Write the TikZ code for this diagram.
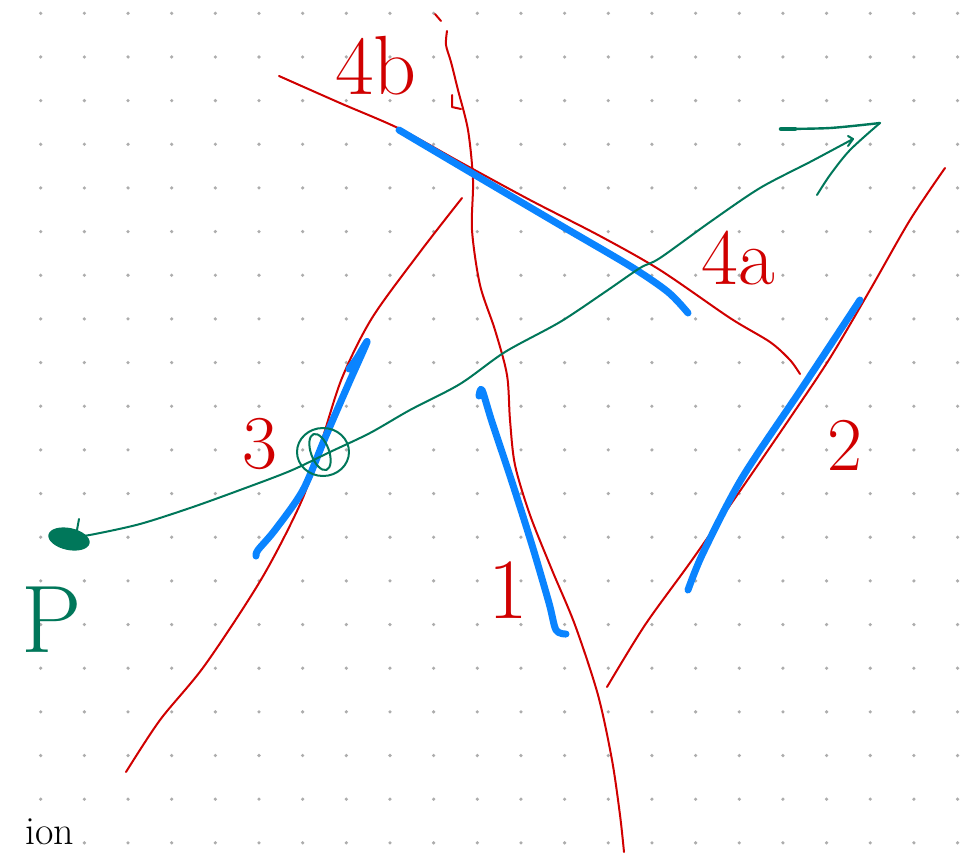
\documentclass[tikz,border=0pt]{standalone}
\usepackage{tikz}
\usetikzlibrary{calc}
\definecolor{inkred}{HTML}{D00000}
\definecolor{inkblue}{HTML}{0A84FF}
\definecolor{inkgreen}{HTML}{00775A}
\definecolor{dotgrey}{HTML}{ADADAD}
\tikzset{
  redink/.style   = {draw=inkred, line width=2pt, line cap=round, line join=round},
  blueink/.style  = {draw=inkblue, line width=7pt, line cap=round, line join=round},
  greenink/.style = {draw=inkgreen, line width=2pt, line cap=round, line join=round},
  redlbl/.style   = {text=inkred, inner sep=0pt},
  greenlbl/.style = {text=inkgreen, inner sep=0pt},
  griddot/.style  = {fill=dotgrey, draw=none},
}
\newcommand{\inksize}[1]{\fontsize{#1}{#1}\selectfont}

\begin{document}
\begin{tikzpicture}[x=1pt, y=-1pt]
    \useasboundingbox[fill=white] (0,0) rectangle (961,855);
    % dot grid
    \foreach \i in {0,...,21}{
      \foreach \j in {0,...,19}{
        \fill[griddot] ({40.7+43.66*\i},{13.3+43.66*\j}) circle (1.8);
      }
    }
    % red construction lines
    \draw[redink] plot[smooth, tension=0.5] coordinates {(279,76) (340,103) (400,129) (460,162) (530,200) (600,236) (660,270) (730,318) (770,342) (790,360) (800,374)};
    \draw[redink] plot[smooth, tension=0.5] coordinates {(447,31) (446,45) (451,62) (458,90) (468,130) (473,180) (472,230) (480,285) (495,330) (507,375) (510,420) (515,465) (530,515) (552,570) (575,625) (598,695) (612,760) (620,815) (624,852)};
    \draw[redink] (435,14) -- (441,21);
    \draw[redink] (452,95) -- (452,107) -- (461,109);
    \draw[redink] plot[smooth, tension=0.5] coordinates {(462,198) (420,252) (372,318) (342,378) (322,440) (302,500) (262,578) (205,665) (160,720) (126,772)};
    \draw[redink] plot[smooth, tension=0.5] coordinates {(945,168) (910,220) (870,290) (830,358) (790,418) (742,488) (692,560) (645,625) (607,687)};
    % blue strokes
    \draw[blueink] plot[smooth, tension=0.5] coordinates {(399,130) (470,172) (560,225) (630,266) (668,292) (688,313)};
    \draw[blueink] plot[smooth, tension=0.5] coordinates {(349,369) (357,358) (367,342) (348,385) (325,438) (303,490) (275,530) (258,550) (256,556)};
    \draw[blueink] plot[smooth, tension=0.5] coordinates {(479,396) (482,390) (492,422) (512,482) (532,545) (549,603) (556,630) (566,634)};
    \draw[blueink] plot[smooth, tension=0.5] coordinates {(860,300) (802,388) (742,478) (703,553) (688,590)};
    % green ray with arrow
    \draw[greenink] plot[smooth, tension=0.5] coordinates {(70,538) (95,534) (140,524) (190,508) (240,490) (290,471) (330,452) (370,433) (410,410) (460,384) (505,352) (560,322) (605,292) (640,268) (660,258) (710,222) (760,188) (810,162) (853,139)};
    \draw[greenink] (848,136) -- (853,139) -- (848,146);
    \draw[greenink, line width=2.4pt] plot[smooth, tension=0.5] coordinates {(780,129) (830,128) (880,123)};
    \draw[inkgreen, line width=4.5pt, line cap=round] (781,129) -- (795,129);
    \draw[greenink] plot[smooth, tension=0.5] coordinates {(880,123) (850,150) (830,175) (817,195)};
    % circled intersection
    \draw[greenink] (323,452) ellipse[x radius=26, y radius=24];
    \draw[greenink, rotate around={20:(320,452)}] (320,452) ellipse[x radius=9, y radius=19];
    % point P
    \fill[inkgreen, rotate around={-12:(69,539)}] (69,539) ellipse[x radius=21, y radius=11];
    \draw[greenink] (77,530) -- (79,519);
    % labels
    \node[redlbl, font=\inksize{84}] (lbl4b) at (376,66) {4b};
    \node[redlbl, font=\inksize{80}] (lbl4a) at (738,258) {4a};
    \node[redlbl, font=\inksize{76}] (lbl3) at (260,444) {3};
    \node[redlbl, font=\inksize{86}] (lbl1) at (508,590) {1};
    \node[redlbl, font=\inksize{76}] (lbl2) at (845,445) {2};
    \node[greenlbl, font=\inksize{96}] (lblP) at (52,620) {P};
    \node[text=black, inner sep=0pt, font=\inksize{40}] (lblion) at (50,832) {ion};
\end{tikzpicture}
\end{document}
